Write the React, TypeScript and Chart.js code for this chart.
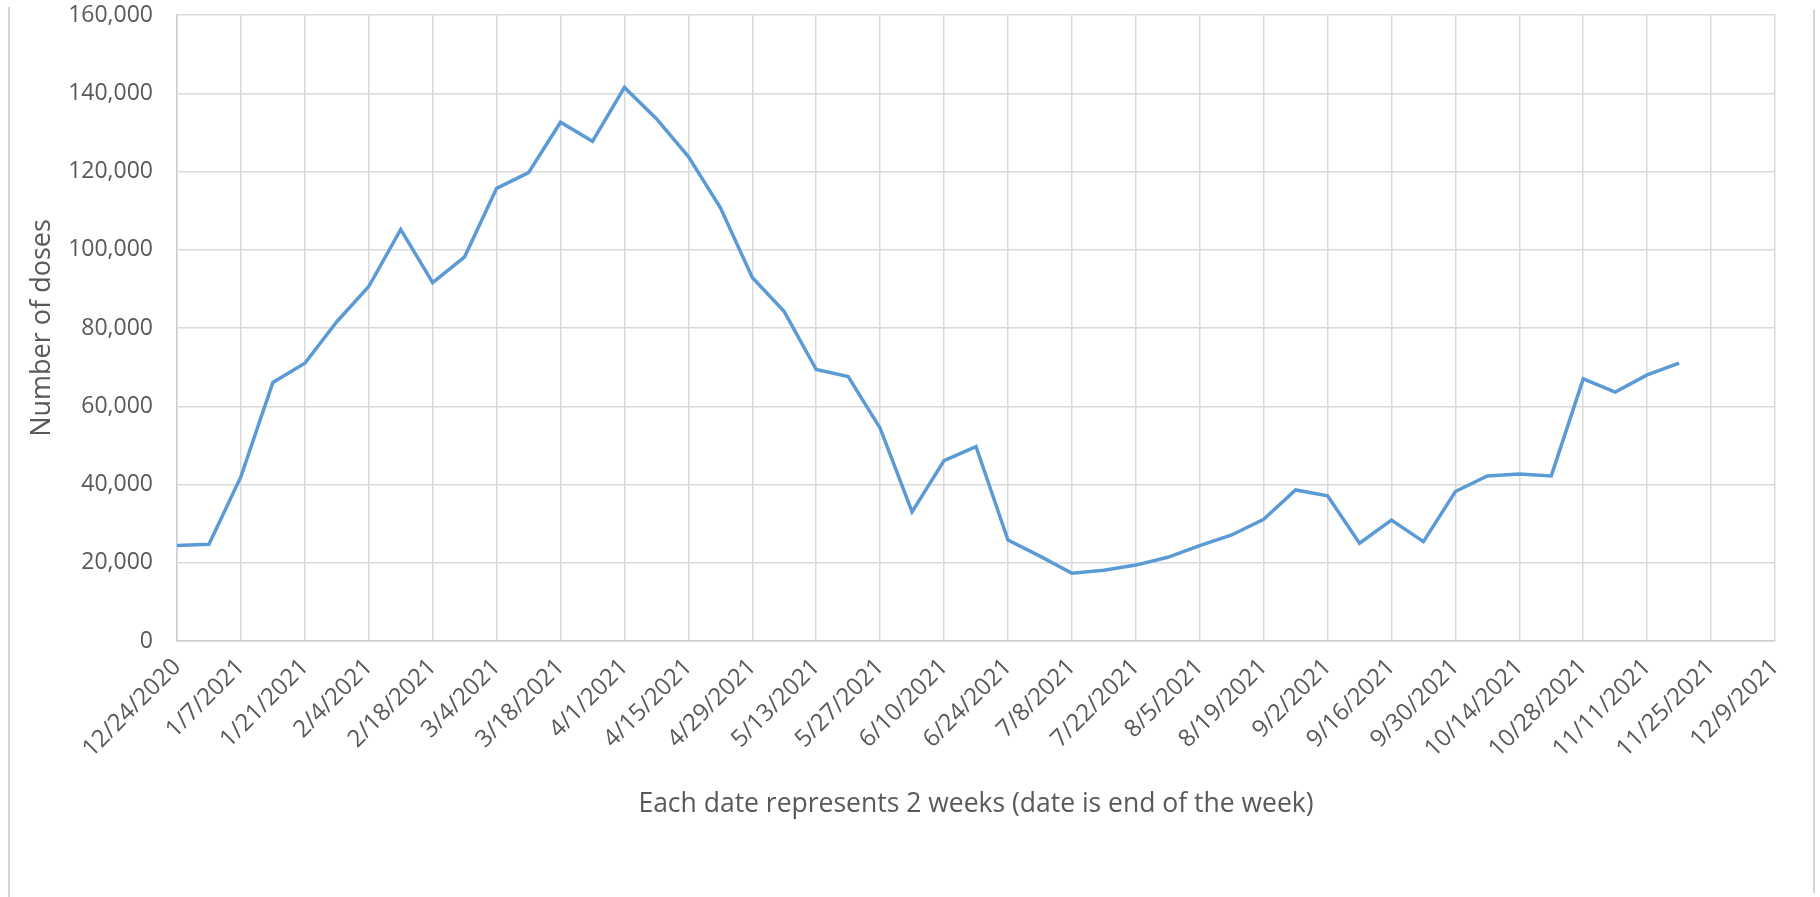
import React, { useEffect, useRef } from "react";
import { Chart, registerables } from "chart.js";

Chart.register(...registerables);

const tickLabels = [
  "12/24/2020", "1/7/2021", "1/21/2021", "2/4/2021", "2/18/2021", "3/4/2021",
  "3/18/2021", "4/1/2021", "4/15/2021", "4/29/2021", "5/13/2021", "5/27/2021",
  "6/10/2021", "6/24/2021", "7/8/2021", "7/22/2021", "8/5/2021", "8/19/2021",
  "9/2/2021", "9/16/2021", "9/30/2021", "10/14/2021", "10/28/2021", "11/11/2021",
  "11/25/2021", "12/9/2021",
];

// weekly values starting at 12/24/2020
const doses = [
  24400, 24700, 42000, 66100, 71000, 81600, 90600, 105200, 91600, 98200,
  115700, 119700, 132600, 127700, 141500, 133500, 123800, 110800, 92900, 84200,
  69400, 67600, 54400, 33000, 46100, 49700, 25800, 21700, 17300, 18100,
  19400, 21400, 24400, 27100, 31100, 38600, 37100, 25000, 30900, 25400,
  38200, 42200, 42700, 42200, 67000, 63600, 68000, 71000,
];

const yTitle = "Number of doses";
const xTitle = "Each date represents 2 weeks (date is end of the week)";

const FONT = "'Open Sans', sans-serif";
const TEXT = "#595959";
const GRID = "#D9D9D9";

export default function App() {
  const ref = useRef<HTMLCanvasElement | null>(null);

  useEffect(() => {
    if (!ref.current) return;
    const chart = new Chart(ref.current, {
      type: "line",
      data: {
        datasets: [
          {
            data: doses.map((v, i) => ({ x: i, y: v })),
            borderColor: "#5B9BD5",
            borderWidth: 3.5,
            pointRadius: 0,
            tension: 0,
            fill: false,
          },
        ],
      },
      options: {
        responsive: false,
        animation: false,
        layout: { padding: { left: 0, right: 45, top: 15, bottom: 0 } },
        plugins: { legend: { display: false }, tooltip: { enabled: false } },
        scales: {
          x: {
            type: "linear",
            min: 0,
            max: 50,
            afterFit: (s: any) => {
              s.height = 256;
              s.paddingLeft = 0;
              s.paddingRight = 0;
            },
            afterBuildTicks: (s: any) => {
              s.ticks = tickLabels.map((_, i) => ({ value: i * 2 }));
            },
            grid: { color: GRID, lineWidth: 1.5, drawTicks: false },
            border: { color: "#CFCFCF", width: 1.5 },
            ticks: {
              autoSkip: false,
              minRotation: 45,
              maxRotation: 45,
              padding: 12,
              color: TEXT,
              font: { family: FONT, size: 24 },
              callback: (v: any) => tickLabels[Math.round(Number(v) / 2)] ?? "",
            },
            title: {
              display: true,
              text: xTitle,
              color: TEXT,
              font: { family: FONT, size: 26.5 },
              padding: { top: 0, bottom: 77 },
            },
          },
          y: {
            min: 0,
            max: 160000,
            afterFit: (s: any) => {
              s.width = 177;
              s.paddingTop = 0;
              s.paddingBottom = 0;
            },
            grid: { color: GRID, lineWidth: 1.5, drawTicks: false },
            border: { color: "#CFCFCF", width: 1.5 },
            ticks: {
              stepSize: 20000,
              padding: 24,
              color: TEXT,
              font: { family: FONT, size: 23 },
              callback: (v: any) => Number(v).toLocaleString("en-US"),
            },
            title: {
              display: true,
              text: yTitle,
              color: TEXT,
              font: { family: FONT, size: 27 },
              padding: { top: 26, bottom: 0 },
            },
          },
        },
      },
    });
    return () => chart.destroy();
  }, []);

  return (
    <div style={{ position: "fixed", left: 0, top: 0, width: 1820, height: 897, background: "#fff" }}>
      <div style={{ position: "absolute", left: 8, top: 7, width: 2, height: 890, background: "#D4D4D4" }} />
      <div style={{ position: "absolute", left: 1813, top: 10, width: 2, height: 883, background: "#D4D4D4" }} />
      <canvas ref={ref} width={1820} height={897} style={{ position: "absolute", left: 0, top: 0 }} />
    </div>
  );
}
